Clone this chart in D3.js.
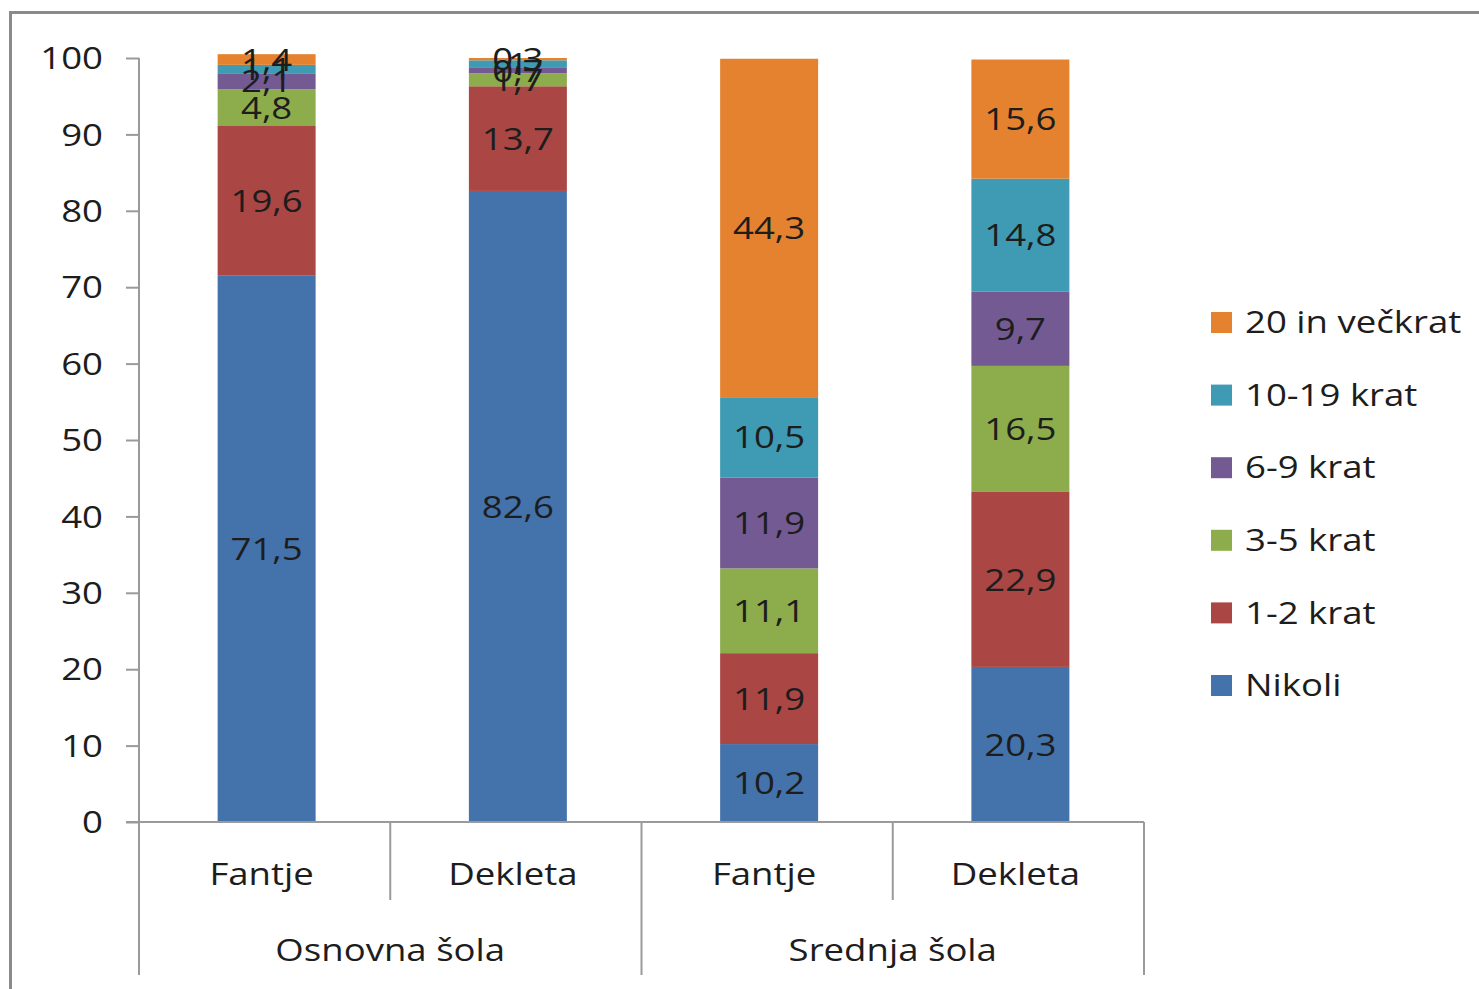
<!DOCTYPE html>
<html><head><meta charset="utf-8">
<script src="https://cdn.jsdelivr.net/npm/d3@7"></script>
<style>body{margin:0;background:#fff;} svg{display:block;}</style>
</head><body>
<svg id="c" width="1479" height="989"></svg>
<script>
const groups = ["Osnovna šola","Osnovna šola","Srednja šola","Srednja šola"];
const categories = ["Fantje","Dekleta","Fantje","Dekleta"];
const seriesNames = ["Nikoli","1-2 krat","3-5 krat","6-9 krat","10-19 krat","20 in večkrat"];
const nikoli   = [71.5, 82.6, 10.2, 20.3];
const krat1_2  = [19.6, 13.7, 11.9, 22.9];
const krat3_5  = [4.8, 1.7, 11.1, 16.5];
const krat6_9  = [2.1, 0.7, 11.9, 9.7];
const krat10_19= [1.1, 1.0, 10.5, 14.8];
const krat20   = [1.4, 0.3, 44.3, 15.6];
const yTicks = [0,10,20,30,40,50,60,70,80,90,100];
const colors = ["#4472AA","#AA4644","#8DAC4C","#735A93","#3F9AB3","#E4822F"];

const seriesVals = [nikoli, krat1_2, krat3_5, krat6_9, krat10_19, krat20];
const rows = categories.map((c,i)=>{const r={i};seriesNames.forEach((s,k)=>r[s]=seriesVals[k][i]);return r;});
const stack = d3.stack().keys(seriesNames)(rows);

const svg = d3.select("#c");
const font = "'Open Sans', Lato, sans-serif";
const fs = 31, sx = 1.18;
function txt(parent, x, y, str, anchor){
  return parent.append("g").attr("transform",`translate(${x},${y}) scale(${sx},1)`)
    .append("text").attr("dy","0.36em").attr("text-anchor",anchor||"middle")
    .attr("font-family",font).attr("font-size",fs).attr("fill","#1d1d1d").text(str);
}
// frame
svg.append("path").attr("d","M10.5,989 V12.5 H1479").attr("fill","none").attr("stroke","#8a8a8a").attr("stroke-width",3);

const x0=139, x1=1144, yBottom=822, yTop=58;
const x = d3.scaleBand().domain(d3.range(4)).range([x0,x1]).paddingInner(0.61).paddingOuter(0.305);
const y = d3.scaleLinear().domain([0,100]).range([yBottom,yTop]);
const xoff = 2;

const g = svg.append("g").attr("transform",`translate(${xoff},0)`);
stack.forEach((s,k)=>{
  g.selectAll(null).data(s).enter().append("rect")
   .attr("x",(d,i)=>x(i)).attr("width",x.bandwidth())
   .attr("y",d=>y(d[1])).attr("height",d=>y(d[0])-y(d[1]))
   .attr("fill",colors[k]);
});
stack.forEach((s,k)=>{
  s.forEach((d,i)=>{
    txt(g, x(i)+x.bandwidth()/2, y((d[0]+d[1])/2), String(seriesVals[k][i]).replace(".",","));
  });
});

// y axis
const ya = svg.append("g").attr("transform",`translate(${x0},0)`)
  .call(d3.axisLeft(y).tickValues(yTicks).tickSize(13).tickFormat(""));
ya.select(".domain").attr("stroke","#9a9a9a").attr("stroke-width",2).attr("d",`M0,${yBottom}V${yTop}`);
ya.selectAll(".tick line").attr("stroke","#9a9a9a").attr("stroke-width",2);
yTicks.forEach(t=>txt(svg, 103, y(t), String(t), "end"));

// x axis baseline
svg.append("line").attr("x1",126).attr("x2",x1).attr("y1",yBottom).attr("y2",yBottom).attr("stroke","#9a9a9a").attr("stroke-width",2);
const step = x.step();
const sep = [0,1,2,3,4].map(i=>x0+i*step);
sep.forEach((px,i)=>{
  const long = (i%2===0);
  svg.append("line").attr("x1",px).attr("x2",px).attr("y1",yBottom).attr("y2",long?975:900)
    .attr("stroke","#9a9a9a").attr("stroke-width",2);
});
categories.forEach((c,i)=>{
  txt(svg, x(i)+x.bandwidth()/2+xoff-5, 874, c);
});
const uniqGroups = [...new Set(groups)];
uniqGroups.forEach((gname,j)=>{
  const idx = groups.map((g,i)=>g===gname?i:-1).filter(i=>i>=0);
  const cx = (x0+idx[0]*step + x0+(idx[idx.length-1]+1)*step)/2;
  txt(svg, cx, 950, gname);
});

// legend
const legendOrder = d3.range(seriesNames.length).reverse();
legendOrder.forEach((k,j)=>{
  const ly = 322 + j*72.6;
  svg.append("rect").attr("x",1211).attr("y",ly-10).attr("width",21).attr("height",21).attr("fill",colors[k]);
  txt(svg, 1245, ly, seriesNames[k], "start");
});
</script>
</body></html>
